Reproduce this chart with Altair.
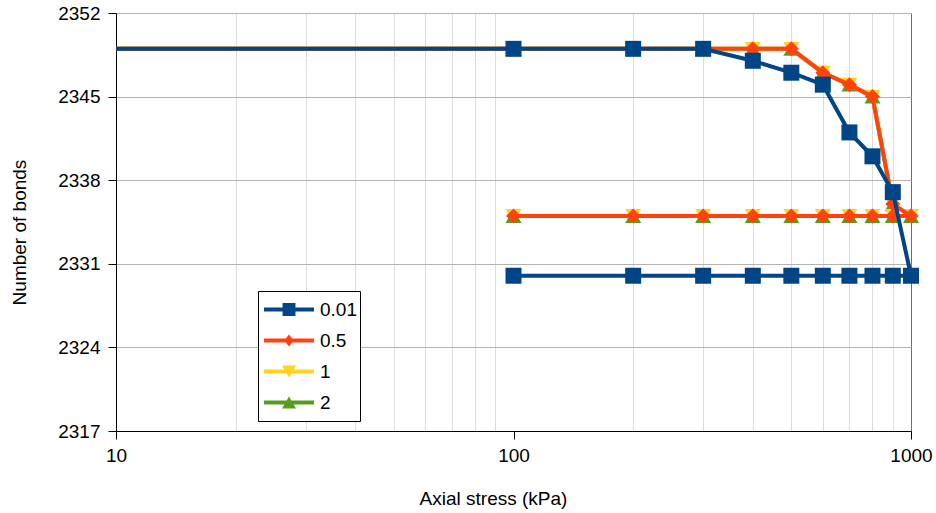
import altair as alt
import pandas as pd

# ---- data ----
series_names = ["0.01", "0.5", "1", "2"]
series_colors = ["#004586", "#ff420e", "#ffd320", "#579d1c"]
series_shapes = ["square", "diamond", "triangle-down", "triangle-up"]

# loading path then unloading path (first point lies left of the plotted range)
stress = [1, 100, 200, 300, 400, 500, 600, 700, 800, 900, 1000,
          900, 800, 700, 600, 500, 400, 300, 200, 100]
bonds_001 = [2349, 2349, 2349, 2349, 2348, 2347, 2346, 2342, 2340, 2337, 2330,
             2330, 2330, 2330, 2330, 2330, 2330, 2330, 2330, 2330]
bonds_05 = [2349, 2349, 2349, 2349, 2349, 2349, 2347, 2346, 2345, 2336, 2335,
            2335, 2335, 2335, 2335, 2335, 2335, 2335, 2335, 2335]
bonds_1 = [2349, 2349, 2349, 2349, 2349, 2349, 2347, 2346, 2345, 2336, 2335,
           2335, 2335, 2335, 2335, 2335, 2335, 2335, 2335, 2335]
bonds_2 = [2349, 2349, 2349, 2349, 2349, 2349, 2347, 2346, 2345, 2336, 2335,
           2335, 2335, 2335, 2335, 2335, 2335, 2335, 2335, 2335]

y_ticks = [2317, 2324, 2331, 2338, 2345, 2352]
x_ticks = [10, 20, 30, 40, 50, 60, 70, 80, 90, 100,
           200, 300, 400, 500, 600, 700, 800, 900, 1000]

# legend symbols: line segment + marker (custom paths in the -1..1 box)
L = "M-0.893,-0.075L0.893,-0.075L0.893,0.075L-0.893,0.075Z "
legend_paths = [
    L + "M-0.23,-0.23L0.23,-0.23L0.23,0.23L-0.23,0.23Z",
    L + "M0,-0.21L0.17,0L0,0.21L-0.17,0Z",
    L + "M-0.25,-0.21L0.25,-0.21L0,0.21Z",
    L + "M-0.25,0.21L0,-0.21L0.25,0.21Z",
]

values = {"0.01": bonds_001, "0.5": bonds_05, "1": bonds_1, "2": bonds_2}

FONT = "Liberation Sans"

x_scale = alt.Scale(type="log", domain=[10, 1000], nice=False)
y_scale = alt.Scale(domain=[2317, 2352], nice=False, zero=False)

major = "datum.value == 10 || datum.value == 100 || datum.value == 1000"

x_axis = alt.Axis(
    values=x_ticks,
    grid=True,
    gridColor={"condition": {"test": "datum.value == 1000", "value": "#6e6e6e"}, "value": "#dddddd"},
    gridOpacity={"condition": {"test": "datum.value == 10 || datum.value == 100", "value": 0}, "value": 1},
    gridWidth=1,
    ticks=True,
    tickOpacity={"condition": {"test": major, "value": 1}, "value": 0},
    tickColor="black",
    tickSize=8,
    labelExpr="(" + major + ") ? ('' + datum.value) : ''",
    labelFlush=False,
    labelOverlap=False,
    labelFont=FONT,
    labelFontSize=19,
    labelColor="black",
    labelPadding=7,
    domainColor="black",
    domainWidth=1,
    title="Axial stress (kPa)",
    titleFont=FONT,
    titleFontSize=19,
    titleFontWeight="normal",
    titleColor="black",
    titleX=377,
    titleY=73,
    titleBaseline="alphabetic",
)

y_axis = alt.Axis(
    values=y_ticks,
    format="d",
    grid=True,
    gridColor="#b3b3b3",
    gridWidth=1,
    tickColor="black",
    tickSize=8,
    labelFont=FONT,
    labelFontSize=19,
    labelColor="black",
    labelPadding=8,
    domainColor="black",
    domainWidth=1,
    title="Number of bonds",
    titleFont=FONT,
    titleFontSize=19,
    titleFontWeight="normal",
    titleColor="black",
    titleX=-91,
    titleY=219,
    titleBaseline="alphabetic",
)

layers = []
draw_order = ["2", "1", "0.5", "0.01"]
for name in draw_order:
    i = series_names.index(name)
    df = pd.DataFrame({"stress": stress, "bonds": values[name], "idx": list(range(len(stress)))})
    base = alt.Chart(df)
    line = base.mark_line(clip=True, strokeWidth=4, color=series_colors[i]).encode(
        x=alt.X("stress:Q", scale=x_scale, axis=x_axis),
        y=alt.Y("bonds:Q", scale=y_scale, axis=y_axis),
        order=alt.Order("idx:Q"),
    )
    size = {"square": 256, "diamond": 225, "triangle-down": 256, "triangle-up": 256}[series_shapes[i]]
    pts = base.mark_point(filled=True, opacity=1, size=size,
                          shape=series_shapes[i], color=series_colors[i]).encode(
        x=alt.X("stress:Q", scale=x_scale, axis=x_axis),
        y=alt.Y("bonds:Q", scale=y_scale, axis=y_axis),
    ).transform_filter("datum.stress >= 10")
    layers += [line, pts]

legend = alt.Legend(
    orient="none", legendX=142, legendY=278, title=None,
    strokeColor="black", fillColor="white", padding=3, cornerRadius=0,
    clipHeight=31, rowPadding=0, symbolSize=3136, symbolStrokeWidth=0,
    labelFont=FONT, labelFontSize=19, labelColor="black", labelOffset=3,
    labelExpr="datum.label + '\\u00a0\\u00a0'",
)
leg_df = pd.DataFrame({"series": series_names})
leg_layer = alt.Chart(leg_df).mark_point(filled=True, opacity=1).encode(
    color=alt.Color("series:N", scale=alt.Scale(domain=series_names, range=series_colors), legend=legend),
    shape=alt.Shape("series:N", scale=alt.Scale(domain=series_names, range=legend_paths), legend=legend),
).transform_filter("false")

chart = alt.layer(*layers, leg_layer).properties(
    width=795, height=418,
    autosize=alt.AutoSizeParams(type="none"),
    padding={"left": 116, "top": 13, "right": 25, "bottom": 82},
).configure_view(stroke=None).configure(background="white")

chart.save("out.html", embed_options={"renderer": "svg", "actions": False})
